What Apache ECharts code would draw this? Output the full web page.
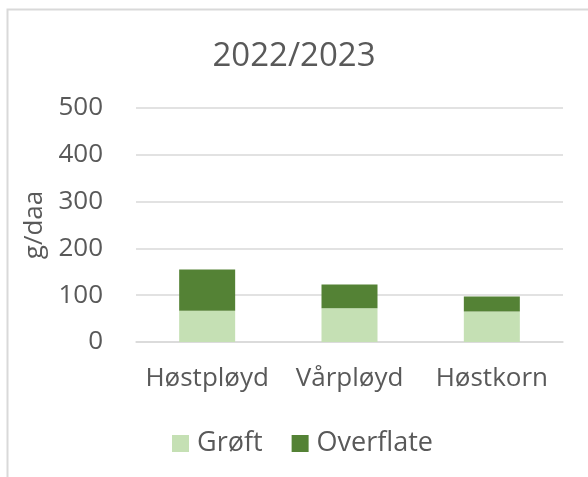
<!DOCTYPE html>
<html>
<head>
<meta charset="utf-8">
<script src="https://cdn.jsdelivr.net/npm/echarts@6/dist/echarts.min.js"></script>
<style>
  html, body { margin: 0; padding: 0; background: #fff; }
  #chart { width: 588px; height: 477px; }
</style>
</head>
<body>
<div id="chart"></div>
<script>
var categories = ['Høstpløyd', 'Vårpløyd', 'Høstkorn'];
var groft = [67, 72, 65];
var overflate = [88, 51, 32];
var yTicks = { min: 0, max: 500, interval: 100 };

var textColor = '#595959';
var font = 'Open Sans';

function initChart() {
    var myChart = echarts.init(document.getElementById('chart'));
    var option = {
        backgroundColor: '#fff',
        animation: false,
        textStyle: { fontFamily: font },
        graphic: [{
            type: 'rect',
            shape: { x: 7.5, y: 9.5, width: 700, height: 700 },
            style: { fill: 'none', stroke: '#d9d9d9', lineWidth: 2 },
            silent: true
        }],
        title: {
            text: '2022/2023',
            left: 'center',
            top: 35,
            textStyle: { color: textColor, fontSize: 33, fontWeight: 'normal', fontFamily: font }
        },
        legend: {
            data: ['Grøft', 'Overflate'],
            left: 167,
            top: 425,
            icon: 'rect',
            itemWidth: 17,
            itemHeight: 17,
            itemGap: 29,
            textStyle: { color: textColor, fontSize: 27, fontFamily: font, padding: [0, 0, 0, 3] }
        },
        grid: { left: 136, right: 25, top: 108, bottom: 135 },
        xAxis: {
            type: 'category',
            data: categories,
            axisLine: { lineStyle: { color: '#d9d9d9', width: 1.5 } },
            axisTick: { show: false },
            axisLabel: { color: textColor, fontSize: 26, margin: 24, fontFamily: font, interval: 0, hideOverlap: false }
        },
        yAxis: {
            type: 'value',
            min: yTicks.min,
            max: yTicks.max,
            interval: yTicks.interval,
            name: 'g/daa',
            nameLocation: 'middle',
            nameGap: 85,
            nameRotate: 90,
            nameTextStyle: { color: textColor, fontSize: 26, fontFamily: font },
            axisLine: { show: false },
            axisTick: { show: false },
            axisLabel: { color: textColor, fontSize: 26, margin: 33, fontFamily: font },
            splitLine: { lineStyle: { color: '#d9d9d9', width: 1.5 } }
        },
        series: [{
            name: 'Grøft',
            type: 'bar',
            stack: 'total',
            barWidth: 56,
            data: groft,
            itemStyle: { color: '#c5e0b4' }
        }, {
            name: 'Overflate',
            type: 'bar',
            stack: 'total',
            barWidth: 56,
            data: overflate,
            itemStyle: { color: '#548235' }
        }]
    };
    myChart.setOption(option);
}
initChart();
</script>
</body>
</html>
